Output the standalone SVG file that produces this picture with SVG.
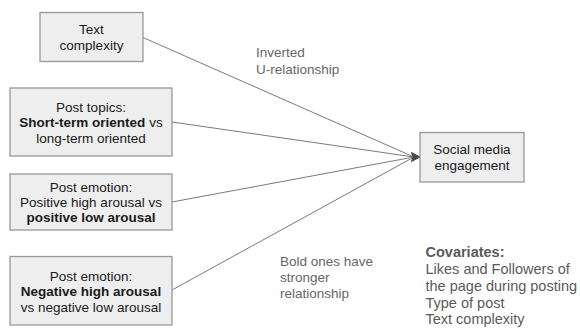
<svg xmlns="http://www.w3.org/2000/svg" width="580" height="331" viewBox="0 0 580 331">
<style>
.box{fill:#eeeeee;stroke:#999999;stroke-width:1.3}
.t{font-family:"Liberation Sans",Arial,sans-serif;font-size:13.5px;fill:#1a1a1a;text-anchor:middle}
.b{font-weight:bold}
.lbl{font-family:"Liberation Sans",Arial,sans-serif;font-size:13.5px;fill:#666666}
.cov{font-family:"Liberation Sans",Arial,sans-serif;font-size:14.5px;fill:#5a5a5a}
.edge{stroke:#7a7a7a;stroke-width:1;fill:none}
</style>
<rect width="580" height="331" fill="#ffffff"/>
<g id="connectors">
<line class="edge" x1="143" y1="37.5" x2="414" y2="157"/>
<line class="edge" x1="172" y1="122" x2="414" y2="157"/>
<line class="edge" x1="172" y1="202" x2="414" y2="157"/>
<line class="edge" x1="172" y1="290" x2="414" y2="157"/>
<polygon points="420,157 411.5,152.5 413,157 411.5,161.5" fill="#4a4a4a" stroke="#4a4a4a" stroke-width="1"/>
</g>
<g id="n1">
<rect class="box" x="40" y="12.5" width="103" height="49"/>
<text class="t" x="91.5" y="34">Text</text>
<text class="t" x="91.5" y="50">complexity</text>
</g>
<g id="n2">
<rect class="box" x="10" y="88" width="162" height="68"/>
<text class="t" x="91" y="111.5">Post topics:</text>
<text class="t" x="91" y="127"><tspan class="b">Short-term oriented</tspan> vs</text>
<text class="t" x="91" y="142.5">long-term oriented</text>
</g>
<g id="n3">
<rect class="box" x="10" y="174" width="162" height="56"/>
<text class="t" x="91" y="191.5">Post emotion:</text>
<text class="t" x="91" y="206.5">Positive high arousal vs</text>
<text class="t" x="91" y="221.5" font-weight="bold">positive low arousal</text>
</g>
<g id="n4">
<rect class="box" x="10" y="256.5" width="162" height="68.5"/>
<text class="t" x="91" y="281">Post emotion:</text>
<text class="t" x="91" y="296" font-weight="bold">Negative high arousal</text>
<text class="t" x="91" y="311.5">vs negative low arousal</text>
</g>
<g id="target">
<rect class="box" x="420" y="132.5" width="104" height="49.5"/>
<text class="t" x="472" y="154">Social media</text>
<text class="t" x="472" y="169.5">engagement</text>
</g>
<g id="labels">
<text class="lbl" x="256" y="57">Inverted</text>
<text class="lbl" x="256" y="73.5">U-relationship</text>
<text class="lbl" x="280" y="266">Bold ones have</text>
<text class="lbl" x="280" y="282">stronger</text>
<text class="lbl" x="280" y="298">relationship</text>
</g>
<g id="covariates">
<text class="cov" x="425.5" y="256.5" font-weight="bold" fill="#444444">Covariates:</text>
<text class="cov" x="425.5" y="274">Likes and Followers of</text>
<text class="cov" x="425.5" y="291">the page during posting</text>
<text class="cov" x="425.5" y="307.5">Type of post</text>
<text class="cov" x="425.5" y="323.5">Text complexity</text>
</g>
</svg>
